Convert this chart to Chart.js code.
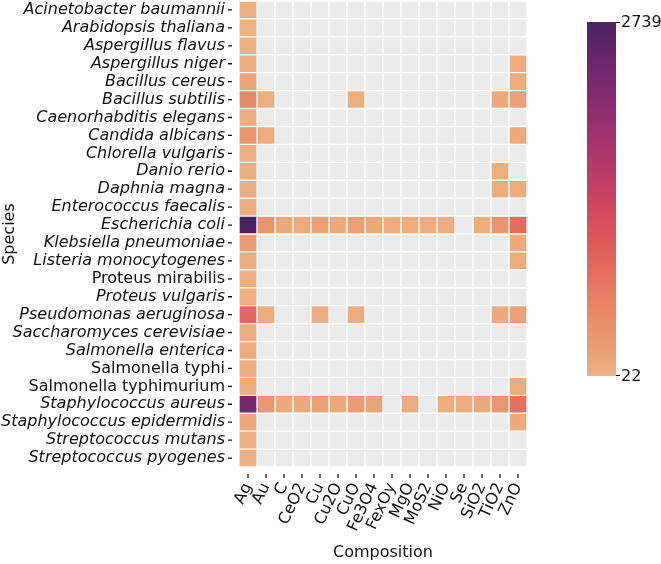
<!DOCTYPE html>
<html>
<head>
<meta charset="utf-8">
<script src="https://cdn.jsdelivr.net/npm/chart.js@4"></script>
<style>
  html, body { margin: 0; padding: 0; background: #fff; }
  #wrap { width: 661px; height: 564px; }
</style>
</head>
<body>
<div id="wrap"><canvas id="heat"></canvas></div>
<script>
const species = ['Acinetobacter baumannii', 'Arabidopsis thaliana', 'Aspergillus flavus', 'Aspergillus niger',
  'Bacillus cereus', 'Bacillus subtilis', 'Caenorhabditis elegans', 'Candida albicans', 'Chlorella vulgaris',
  'Danio rerio', 'Daphnia magna', 'Enterococcus faecalis', 'Escherichia coli', 'Klebsiella pneumoniae',
  'Listeria monocytogenes', 'Proteus mirabilis', 'Proteus vulgaris', 'Pseudomonas aeruginosa',
  'Saccharomyces cerevisiae', 'Salmonella enterica', 'Salmonella typhi', 'Salmonella typhimurium',
  'Staphylococcus aureus', 'Staphylococcus epidermidis', 'Streptococcus mutans', 'Streptococcus pyogenes'];
const uprightSpecies = ['Proteus mirabilis', 'Salmonella typhi', 'Salmonella typhimurium'];

const compositions = ['Ag', 'Au', 'C', 'CeO2', 'Cu', 'Cu2O', 'CuO', 'Fe3O4', 'FexOy', 'MgO', 'MoS2', 'NiO', 'Se', 'SiO2', 'TiO2', 'ZnO'];

// counts per composition, one value per species (null = no data)
const _ = null;
const ag    = [40, 22, 45, 60, 140, 520, 50, 350, 45, 55, 60, 50, 2739, 230, 70, 45, 40, 870, 55, 60, 70, 75, 2380, 130, 45, 40];
const au    = [_, _, _, _, _, 45, _, 60, _, _, _, _, 350, _, _, _, _, 60, _, _, _, _, 330, _, _, _];
const c     = [_, _, _, _, _, _, _, _, _, _, _, _, 80, _, _, _, _, _, _, _, _, _, 90, _, _, _];
const ceo2  = [_, _, _, _, _, _, _, _, _, _, _, _, 70, _, _, _, _, _, _, _, _, _, 80, _, _, _];
const cu    = [_, _, _, _, _, _, _, _, _, _, _, _, 190, _, _, _, _, 50, _, _, _, _, 200, _, _, _];
const cu2o  = [_, _, _, _, _, _, _, _, _, _, _, _, 90, _, _, _, _, _, _, _, _, _, 100, _, _, _];
const cuo   = [_, _, _, _, _, 45, _, _, _, _, _, _, 220, _, _, _, _, 55, _, _, _, _, 250, _, _, _];
const fe3o4 = [_, _, _, _, _, _, _, _, _, _, _, _, 100, _, _, _, _, _, _, _, _, _, 160, _, _, _];
const fexoy = [_, _, _, _, _, _, _, _, _, _, _, _, 70, _, _, _, _, _, _, _, _, _, _, _, _, _];
const mgo   = [_, _, _, _, _, _, _, _, _, _, _, _, 60, _, _, _, _, _, _, _, _, _, 70, _, _, _];
const mos2  = [_, _, _, _, _, _, _, _, _, _, _, _, 55, _, _, _, _, _, _, _, _, _, _, _, _, _];
const nio   = [_, _, _, _, _, _, _, _, _, _, _, _, 50, _, _, _, _, _, _, _, _, _, 60, _, _, _];
const se    = [_, _, _, _, _, _, _, _, _, _, _, _, _, _, _, _, _, _, _, _, _, _, 70, _, _, _];
const sio2  = [_, _, _, _, _, _, _, _, _, _, _, _, 60, _, _, _, _, _, _, _, _, _, 80, _, _, _];
const tio2  = [_, _, _, _, _, 90, _, _, _, 40, 50, _, 340, _, _, _, _, 80, _, _, _, _, 330, _, _, _];
const zno   = [_, _, _, 60, 70, 210, _, 90, _, _, 60, _, 840, 80, 70, _, _, 200, _, _, _, 70, 780, 90, _, _];

const columns = [ag, au, c, ceo2, cu, cu2o, cuo, fe3o4, fexoy, mgo, mos2, nio, se, sio2, tio2, zno];

// seaborn "flare" approximation
const flare = [
  [0.0, [237, 176, 129]], [0.1, [234, 153, 113]], [0.2, [232, 132, 102]], [0.3, [228, 108, 94]],
  [0.4, [219, 86, 91]], [0.5, [203, 68, 96]], [0.6, [180, 57, 104]], [0.7, [156, 49, 110]],
  [0.8, [130, 42, 112]], [0.9, [103, 37, 106]], [1.0, [75, 35, 98]]
];
function flareColor(t) {
  t = Math.max(0, Math.min(1, t));
  for (let i = 1; i < flare.length; i++) {
    if (t <= flare[i][0]) {
      const [t0, c0] = flare[i - 1], [t1, c1] = flare[i];
      const f = (t - t0) / (t1 - t0);
      const m = c0.map((v, k) => Math.round(v + (c1[k] - v) * f));
      return 'rgb(' + m.join(',') + ')';
    }
  }
  return 'rgb(75,35,98)';
}

const allVals = columns.flat().filter(v => v !== null);
const vmin = Math.min(...allVals);
const vmax = Math.max(...allVals);

const datasets = columns.map((col, i) => ({
  label: compositions[i],
  data: species.map(() => 1),
  backgroundColor: col.map(v => v === null ? '#ebebeb' : flareColor((v - vmin) / (vmax - vmin))),
  borderColor: '#ffffff',
  borderWidth: 1,
  borderSkipped: false,
  barPercentage: 1,
  categoryPercentage: 1
}));

const FS = 16;
const INK = '#111';

// colour bar + small detached tick marks (like matplotlib/seaborn)
const decorations = {
  id: 'decorations',
  afterDraw(chart) {
    const ctx = chart.ctx;
    const area = chart.chartArea;
    ctx.save();
    ctx.strokeStyle = INK;
    ctx.lineWidth = 1.3;
    ctx.beginPath();
    chart.scales.y.ticks.forEach((t, i) => {
      const y = chart.scales.y.getPixelForTick(i);
      ctx.moveTo(area.left - 11, y); ctx.lineTo(area.left - 7, y);
    });
    chart.scales.x.ticks.forEach((t, i) => {
      const x = chart.scales.x.getPixelForTick(i);
      ctx.moveTo(x, area.bottom + 7); ctx.lineTo(x, area.bottom + 11);
    });
    ctx.stroke();

    const x0 = 587, x1 = 616, y0 = 22, y1 = 376;
    const g = ctx.createLinearGradient(0, y1, 0, y0);
    flare.forEach(([t]) => g.addColorStop(t, flareColor(t)));
    ctx.fillStyle = g;
    ctx.fillRect(x0, y0, x1 - x0, y1 - y0);
    ctx.lineWidth = 1;
    ctx.beginPath();
    ctx.moveTo(x1, y0 + 0.5); ctx.lineTo(x1 + 4, y0 + 0.5);
    ctx.moveTo(x1, y1 - 0.5); ctx.lineTo(x1 + 4, y1 - 0.5);
    ctx.stroke();
    ctx.fillStyle = INK;
    ctx.font = FS + 'px "DejaVu Sans"';
    ctx.textBaseline = 'middle';
    ctx.textAlign = 'left';
    ctx.fillText(String(vmax), x1 + 5, y0 + 1);
    ctx.fillText(String(vmin), x1 + 5, y1 + 1);
    ctx.restore();
  }
};

Chart.defaults.font.family = '"DejaVu Sans"';
Chart.defaults.font.size = FS;
Chart.defaults.color = INK;

const noGrid = { drawOnChartArea: false, drawTicks: false, offset: false };

new Chart(document.getElementById('heat'), {
  type: 'bar',
  data: { labels: species, datasets: datasets },
  options: {
    indexAxis: 'y',
    responsive: true,
    maintainAspectRatio: false,
    animation: false,
    layout: { padding: { top: 1, right: 134, left: 0, bottom: 0 } },
    plugins: { legend: { display: false }, tooltip: { enabled: false } },
    scales: {
      x: {
        type: 'linear',
        stacked: true,
        min: 0,
        max: compositions.length,
        afterBuildTicks: s => { s.ticks = compositions.map((cname, i) => ({ value: i + 0.5 })); },
        afterFit: s => { s.height = 97; },
        ticks: {
          autoSkip: false,
          minRotation: 65,
          maxRotation: 65,
          padding: 13,
          callback: (v, i) => compositions[i]
        },
        grid: noGrid,
        border: { display: false },
        title: { display: true, text: 'Composition', padding: { top: 0, bottom: 2 } }
      },
      y: {
        stacked: true,
        afterFit: s => { s.width = 239; s.paddingTop = 0; s.paddingBottom = 0; },
        ticks: {
          autoSkip: false,
          padding: 14,
          font: ctx => ({
            family: '"DejaVu Sans"', size: FS,
            style: uprightSpecies.includes(species[ctx.index]) ? 'normal' : 'italic'
          })
        },
        grid: noGrid,
        border: { display: false },
        title: { display: true, text: 'Species', padding: { top: 0, bottom: 0 } }
      }
    }
  },
  plugins: [decorations]
});
</script>
</body>
</html>
